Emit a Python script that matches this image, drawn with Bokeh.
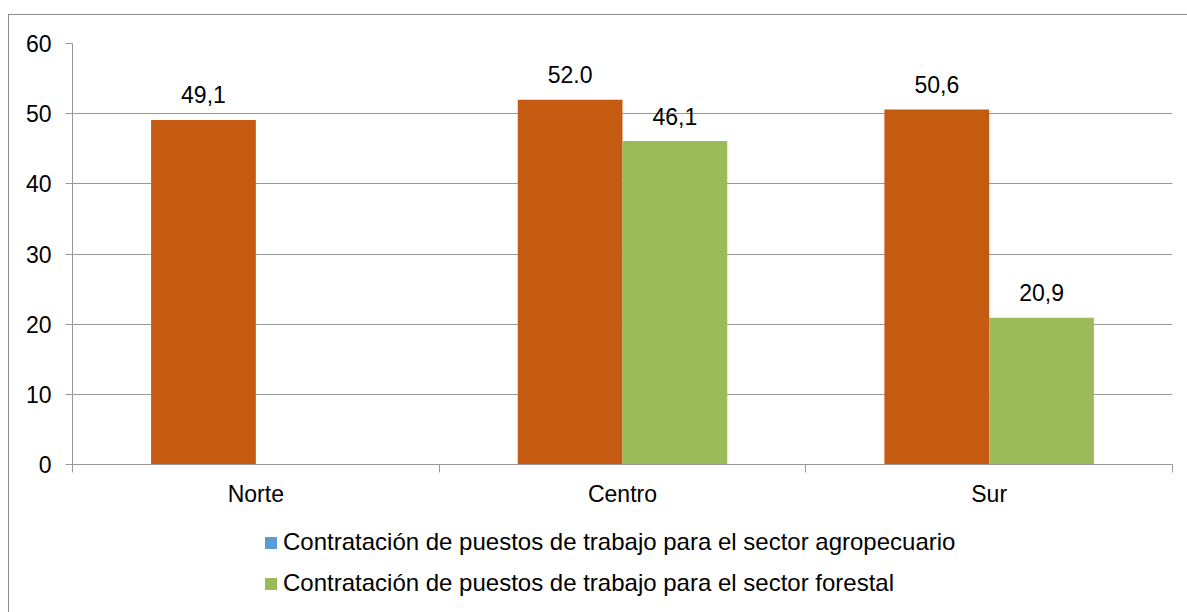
from bokeh.plotting import figure
from bokeh.layouts import column
from bokeh.models import (FixedTicker, ColumnDataSource, Legend, LegendItem, Range1d)
from bokeh.embed import file_html
from bokeh.resources import INLINE
from bokeh.core.properties import value

categories = ["Norte", "Centro", "Sur"]
agropecuario = [49.1, 52.0, 50.6]
forestal = [None, 46.1, 20.9]
agro_labels = ["49,1", "52.0", "50,6"]
forestal_labels = ["", "46,1", "20,9"]
y_ticks = [0, 10, 20, 30, 40, 50, 60]
legend_labels = [
    "Contratación de puestos de trabajo para el sector agropecuario",
    "Contratación de puestos de trabajo para el sector forestal",
]
legend_colors = ["#5B9BD5", "#9BBB59"]

FONT = "Liberation Sans"
FS = "23px"
LFS = "24px"
ORANGE = "#C55A11"
GREEN = "#9BBB59"
GRAY = "#989898"

n = len(categories)
bw = 1 / 3.5  # Excel gap width 150%

agro_src = ColumnDataSource(dict(
    x=[i + 0.5 - bw / 2 for i in range(n)],
    top=agropecuario,
    label=agro_labels,
))
fx, ft, fl = [], [], []
for i in range(n):
    if forestal[i] is not None:
        fx.append(i + 0.5 + bw / 2)
        ft.append(forestal[i])
        fl.append(forestal_labels[i])
for_src = ColumnDataSource(dict(x=fx, top=ft, label=fl))

W = 1178
p = figure(width=W, height=500, output_backend="svg", toolbar_location=None,
           x_range=Range1d(0, n), y_range=Range1d(y_ticks[0], y_ticks[-1]),
           min_border_left=63, min_border_right=15, min_border_top=28,
           min_border_bottom=51)
p.outline_line_color = None
p.background_fill_color = "white"
p.border_fill_color = "white"

# grid
p.xgrid.grid_line_color = None
p.ygrid.grid_line_color = GRAY
p.ygrid.ticker = FixedTicker(ticks=y_ticks)

# y axis
p.yaxis.ticker = FixedTicker(ticks=y_ticks)
p.yaxis.axis_line_color = GRAY
p.yaxis.major_tick_line_color = GRAY
p.yaxis.major_tick_out = 7
p.yaxis.major_tick_in = 0
p.yaxis.minor_tick_line_color = None
p.yaxis.major_label_standoff = 14
p.yaxis.major_label_text_font = FONT
p.yaxis.major_label_text_font_size = FS
p.yaxis.major_label_text_color = "black"

# x axis
p.xaxis.ticker = FixedTicker(ticks=[i + 0.5 for i in range(n)],
                             minor_ticks=list(range(n + 1)))
p.xaxis.major_label_overrides = {i + 0.5: c for i, c in enumerate(categories)}
p.xaxis.axis_line_color = GRAY
p.xaxis.major_tick_line_color = None
p.xaxis.major_tick_out = 0
p.xaxis.major_tick_in = 0
p.xaxis.minor_tick_line_color = GRAY
p.xaxis.minor_tick_out = 8
p.xaxis.minor_tick_in = 0
p.xaxis.major_label_standoff = 8
p.xaxis.major_label_text_font = FONT
p.xaxis.major_label_text_font_size = FS
p.xaxis.major_label_text_color = "black"

# bars
p.vbar(x="x", top="top", width=bw, bottom=0, source=agro_src,
       fill_color=ORANGE, line_color=None)
p.vbar(x="x", top="top", width=bw, bottom=0, source=for_src,
       fill_color=GREEN, line_color=None)

# value labels
for src in (agro_src, for_src):
    p.text(x="x", y="top", text="label", source=src, text_align="center",
           text_baseline="alphabetic", y_offset=-25,
           text_font=value(FONT), text_font_size=FS, text_color="black")

# legend strip (separate figure so that it is not clipped)
lg = figure(width=W, height=97, output_backend="svg", toolbar_location=None,
            x_range=Range1d(0, 1), y_range=Range1d(0, 1),
            x_axis_location=None, y_axis_location=None,
            min_border_left=63, min_border_right=15, min_border_top=0,
            min_border_bottom=0)
lg.outline_line_color = None
lg.grid.grid_line_color = None
lg.background_fill_color = "white"
lg.border_fill_color = "white"
items = []
for lab, col in zip(legend_labels, legend_colors):
    # zero-size swatch renderer, only used to draw the legend square
    sw = lg.vbar(x=[0], top=[0], bottom=[0], width=0, fill_color=col, line_color=None)
    items.append(LegendItem(label=lab, renderers=[sw]))
legend = Legend(items=items, location=(191, 15), orientation="vertical",
                glyph_width=15, glyph_height=15, label_standoff=5, spacing=13,
                padding=0, margin=0, border_line_color=None, background_fill_alpha=0,
                label_text_font=FONT, label_text_font_size=LFS, label_text_color="black")
lg.add_layout(legend, "center")

layout = column(p, lg, spacing=0)
layout.styles = {"margin-left": "8px", "margin-top": "14px",
                 "border-left": "1px solid #8c8c8c", "border-top": "1px solid #8c8c8c"}

open("out.html", "w").write(file_html(layout, INLINE))
